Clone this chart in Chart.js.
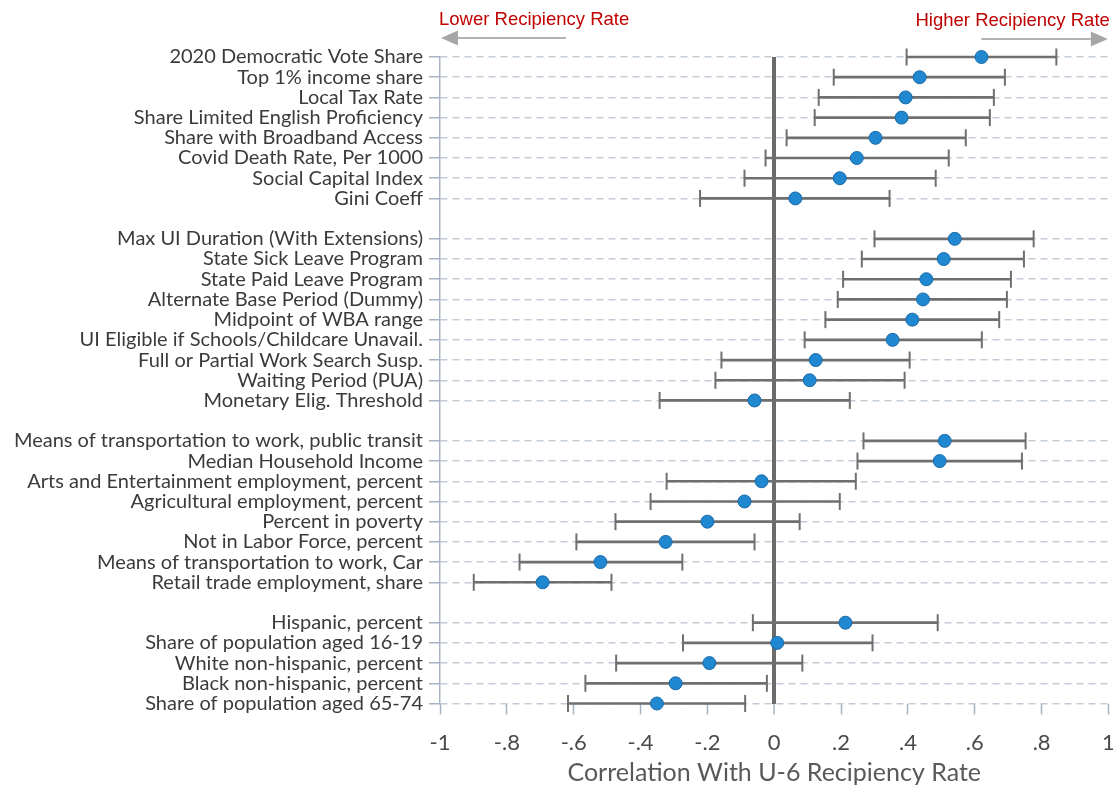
<!DOCTYPE html>
<html>
<head>
<meta charset="utf-8">
<script src="https://cdn.jsdelivr.net/npm/chart.js@4/dist/chart.umd.min.js"></script>
<style>
  html, body { margin: 0; padding: 0; background: #ffffff; }
  #wrap { width: 1113px; height: 788px; position: relative; }
</style>
</head>
<body>
<div id="wrap"><canvas id="c" width="1113" height="788"></canvas></div>
<script>
// Predictors of the U-6 recipiency rate, listed top to bottom in four groups
const labels = [
  '2020 Democratic Vote Share', 'Top 1% income share', 'Local Tax Rate',
  'Share Limited English Proficiency', 'Share with Broadband Access',
  'Covid Death Rate, Per 1000', 'Social Capital Index', 'Gini Coeff',
  'Max UI Duration (With Extensions)', 'State Sick Leave Program',
  'State Paid Leave Program', 'Alternate Base Period (Dummy)',
  'Midpoint of WBA range', 'UI Eligible if Schools/Childcare Unavail.',
  'Full or Partial Work Search Susp.', 'Waiting Period (PUA)',
  'Monetary Elig. Threshold',
  'Means of transportation to work, public transit', 'Median Household Income',
  'Arts and Entertainment employment, percent', 'Agricultural employment, percent',
  'Percent in poverty', 'Not in Labor Force, percent',
  'Means of transportation to work, Car', 'Retail trade employment, share',
  'Hispanic, percent', 'Share of population aged 16-19',
  'White non-hispanic, percent', 'Black non-hispanic, percent',
  'Share of population aged 65-74'
];
const groupSizes = [8, 9, 8, 5];

// Correlation estimates and confidence interval bounds
const estimates = [
  0.620, 0.435, 0.393, 0.381, 0.303, 0.247, 0.196, 0.063,
  0.540, 0.507, 0.455, 0.445, 0.413, 0.354, 0.124, 0.106, -0.059,
  0.510, 0.495, -0.038, -0.089, -0.200, -0.325, -0.520, -0.693,
  0.213, 0.009, -0.194, -0.295, -0.351
];
const lower = [
  0.396, 0.178, 0.133, 0.121, 0.037, -0.026, -0.089, -0.222,
  0.300, 0.262, 0.206, 0.190, 0.153, 0.091, -0.158, -0.176, -0.343,
  0.267, 0.249, -0.322, -0.370, -0.475, -0.592, -0.762, -0.899,
  -0.064, -0.273, -0.473, -0.565, -0.617
];
const upper = [
  0.844, 0.690, 0.657, 0.645, 0.573, 0.522, 0.483, 0.345,
  0.776, 0.747, 0.708, 0.696, 0.673, 0.621, 0.405, 0.390, 0.226,
  0.752, 0.741, 0.244, 0.196, 0.076, -0.059, -0.275, -0.487,
  0.489, 0.294, 0.084, -0.022, -0.087
];
const xTicks = [-1, -0.8, -0.6, -0.4, -0.2, 0, 0.2, 0.4, 0.6, 0.8, 1];

// Row positions: one blank row between groups
const rowPos = [];
const rowLabel = {};
let slot = 0;
let k = 0;
groupSizes.forEach((n, g) => {
  if (g > 0) slot++;
  for (let j = 0; j < n; j++) {
    rowPos.push(slot);
    rowLabel[slot] = labels[k];
    slot++; k++;
  }
});
const lastSlot = slot - 1;

const LABEL_FONT = 'Lato, "Open Sans", sans-serif';
const GRID_BLUE = '#c3cbd7';
const AXIS_BLUE = '#a7b3c3';
const WHISKER = '#6f6f6f';

const fmtTick = v => {
  const r = Math.round(v * 10) / 10;
  if (r === 0) return '0';
  if (Math.abs(r) === 1) return String(r);
  return r.toFixed(1).replace('0.', '.');
};

// Direction hints above the plot
const directionHints = {
  id: 'directionHints',
  afterDraw(chart) {
    const { ctx, chartArea, scales } = chart;
    const x = scales.x;
    const textY = chartArea.top - 37;
    const arrowY = chartArea.top - 19;
    ctx.save();
    ctx.font = '18.5px "Liberation Sans", Arial, sans-serif';
    ctx.fillStyle = '#c00000';
    ctx.textBaseline = 'middle';
    ctx.textAlign = 'left';
    ctx.fillText('Lower Recipiency Rate', x.getPixelForValue(-1.003), textY);
    ctx.textAlign = 'right';
    ctx.fillText('Higher Recipiency Rate', x.getPixelForValue(1.004), textY + 1);

    const arrow = (fromV, toV, y) => {
      const x0 = x.getPixelForValue(fromV);
      const x1 = x.getPixelForValue(toV);
      const dir = Math.sign(x1 - x0);
      const head = 17;
      ctx.strokeStyle = '#b3b3b3';
      ctx.lineWidth = 2;
      ctx.beginPath();
      ctx.moveTo(x0, y);
      ctx.lineTo(x1 - dir * head, y);
      ctx.stroke();
      ctx.fillStyle = '#a6a6a6';
      ctx.beginPath();
      ctx.moveTo(x1, y);
      ctx.lineTo(x1 - dir * head, y - 7.5);
      ctx.lineTo(x1 - dir * head, y + 7.5);
      ctx.closePath();
      ctx.fill();
    };
    arrow(-0.623, -0.997, arrowY);
    arrow(0.620, 0.998, arrowY + 1);
    ctx.restore();
  }
};

new Chart(document.getElementById('c'), {
  type: 'scatter',
  data: {
    datasets: [
      {
        label: 'Estimate',
        order: 0,
        clip: false,
        data: rowPos.map((p, i) => ({ x: estimates[i], y: p })),
        pointRadius: 6.5,
        pointHoverRadius: 6.5,
        pointBackgroundColor: '#2087d1',
        pointBorderColor: '#1b6aa8',
        pointBorderWidth: 1
      },
      {
        label: 'CI caps',
        order: 1,
        clip: false,
        data: rowPos.flatMap((p, i) => [{ x: lower[i], y: p }, { x: upper[i], y: p }]),
        pointStyle: 'line',
        rotation: 90,
        pointRadius: 8.5,
        pointHoverRadius: 8.5,
        borderColor: WHISKER,
        pointBorderColor: WHISKER,
        pointBorderWidth: 2
      },
      {
        type: 'bar',
        label: 'CI',
        order: 2,
        clip: false,
        indexAxis: 'y',
        data: rowPos.map((p, i) => ({ y: p, x: [lower[i], upper[i]] })),
        backgroundColor: WHISKER,
        borderWidth: 0,
        barThickness: 2
      }
    ]
  },
  options: {
    responsive: false,
    animation: false,
    events: [],
    layout: { autoPadding: false, padding: { top: 57, right: 4.5, left: 0, bottom: 0 } },
    plugins: { legend: { display: false }, tooltip: { enabled: false } },
    scales: {
      x: {
        type: 'linear',
        min: -1,
        max: 1,
        afterBuildTicks: s => { s.ticks = xTicks.map(v => ({ value: v })); },
        afterFit: s => { s.height = 84.5; s.paddingLeft = 0; s.paddingRight = 0; },
        border: { display: false },
        grid: {
          offset: false,
          color: c => (c.tick && Math.abs(c.tick.value) < 1e-9 ? '#6b6b6b' : 'rgba(0,0,0,0)'),
          lineWidth: c => (c.tick && Math.abs(c.tick.value) < 1e-9 ? 4 : 1),
          tickColor: AXIS_BLUE,
          tickWidth: 1.5,
          tickLength: 11,
          drawTicks: true
        },
        ticks: {
          callback: v => fmtTick(v),
          font: { family: LABEL_FONT, size: 22 },
          color: '#4a4a4a',
          padding: 15,
          maxRotation: 0,
          autoSkip: false
        },
        title: {
          display: true,
          text: 'Correlation With U-6 Recipiency Rate',
          font: { family: LABEL_FONT, size: 25 },
          color: '#595959',
          padding: { top: 0, bottom: 0 }
        }
      },
      y: {
        type: 'linear',
        reverse: true,
        min: 0,
        max: lastSlot,
        offset: false,
        afterBuildTicks: s => {
          const t = [];
          for (let v = 0; v <= lastSlot; v++) t.push({ value: v });
          s.ticks = t;
        },
        afterFit: s => { s.width = 440; s.paddingTop = 0; s.paddingBottom = 0; },
        border: { display: true, color: AXIS_BLUE, width: 1.5, dash: [7, 5] },
        grid: {
          offset: false,
          color: c => (c.tick && rowLabel[c.tick.value] ? GRID_BLUE : 'rgba(0,0,0,0)'),
          tickColor: c => (c.tick && rowLabel[c.tick.value] ? AXIS_BLUE : 'rgba(0,0,0,0)'),
          lineWidth: 1.5,
          tickWidth: 1.5,
          tickLength: 11,
          tickBorderDash: []
        },
        ticks: {
          callback: v => rowLabel[v] || '',
          font: { family: LABEL_FONT, size: 20 },
          color: '#3b3b3b',
          padding: 6,
          autoSkip: false
        }
      }
    }
  },
  plugins: [directionHints]
});
</script>
</body>
</html>
